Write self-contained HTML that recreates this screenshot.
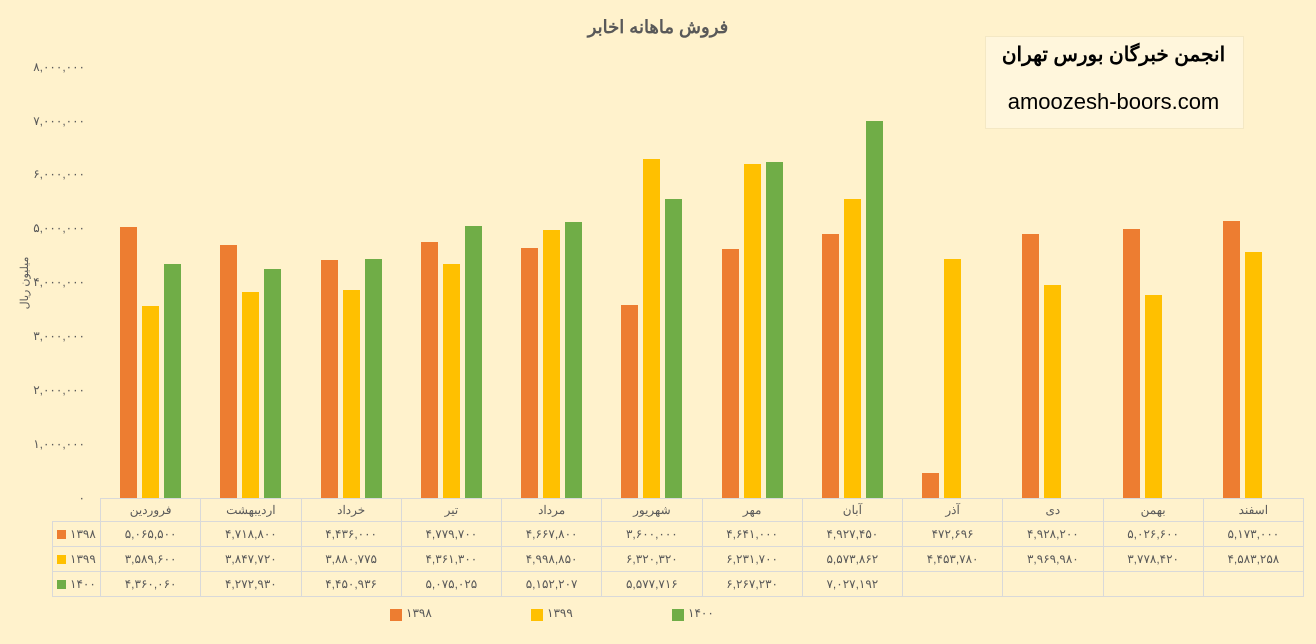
<!DOCTYPE html>
<html><head><meta charset="utf-8"><style>
body{margin:0;width:1316px;height:644px;background:#FFF2CC;position:relative;overflow:hidden;font-family:"Liberation Sans","Noto Sans CJK SC",sans-serif;color:#595959}
.t{position:absolute;}
table{position:absolute;left:52px;top:498px;border-collapse:collapse;font-size:12px;color:#595959;table-layout:fixed;width:1251px}
td{border:1px solid #D9D9D9;text-align:center;padding:0;overflow:hidden;white-space:nowrap}
td.l{text-align:left;padding-left:4px}
.sq{display:inline-block;width:9px;height:9px;margin-right:4px;vertical-align:-1px}
</style></head><body>
<div class="t" style="left:0;width:1316px;top:17px;text-align:center;font-size:18px;font-weight:bold;color:#595959">فروش ماهانه اخابر</div>
<div class="t" style="left:985px;top:36px;width:257px;height:91px;background:#FFF6DC;border:1px solid #F4E8C4"></div>
<div class="t" style="left:985px;top:42px;width:257px;text-align:center;font-size:20px;font-weight:bold;color:#000">انجمن خبرگان بورس تهران</div>
<div class="t" style="left:985px;top:89px;width:257px;text-align:center;font-size:22px;color:#000">amoozesh-boors.com</div>
<svg class="t" style="left:0;top:0" width="1316" height="644">
<g font-size="12" fill="#595959" text-anchor="end" font-family="Liberation Sans,sans-serif">
<text x="85" y="71">۸,۰۰۰,۰۰۰</text><text x="85" y="125">۷,۰۰۰,۰۰۰</text><text x="85" y="178">۶,۰۰۰,۰۰۰</text><text x="85" y="232">۵,۰۰۰,۰۰۰</text><text x="85" y="286">۴,۰۰۰,۰۰۰</text><text x="85" y="340">۳,۰۰۰,۰۰۰</text><text x="85" y="394">۲,۰۰۰,۰۰۰</text><text x="85" y="448">۱,۰۰۰,۰۰۰</text><text x="85" y="502">۰</text>
</g>
<text x="0" y="0" font-size="11" fill="#595959" text-anchor="middle" transform="translate(28,283) rotate(-90)">میلیون ریال</text>
<g fill="#ED7D31">
<rect x="120" y="227" width="17" height="271"/><rect x="220" y="245" width="17" height="253"/><rect x="321" y="260" width="17" height="238"/><rect x="421" y="242" width="17" height="256"/><rect x="521" y="248" width="17" height="250"/><rect x="621" y="305" width="17" height="193"/><rect x="722" y="249" width="17" height="249"/><rect x="822" y="234" width="17" height="264"/><rect x="922" y="473" width="17" height="25"/><rect x="1022" y="234" width="17" height="264"/><rect x="1123" y="229" width="17" height="269"/><rect x="1223" y="221" width="17" height="277"/>
</g>
<g fill="#FFC000">
<rect x="142" y="306" width="17" height="192"/><rect x="242" y="292" width="17" height="206"/><rect x="343" y="290" width="17" height="208"/><rect x="443" y="264" width="17" height="234"/><rect x="543" y="230" width="17" height="268"/><rect x="643" y="159" width="17" height="339"/><rect x="744" y="164" width="17" height="334"/><rect x="844" y="199" width="17" height="299"/><rect x="944" y="259" width="17" height="239"/><rect x="1044" y="285" width="17" height="213"/><rect x="1145" y="295" width="17" height="203"/><rect x="1245" y="252" width="17" height="246"/>
</g>
<g fill="#70AD47">
<rect x="164" y="264" width="17" height="234"/><rect x="264" y="269" width="17" height="229"/><rect x="365" y="259" width="17" height="239"/><rect x="465" y="226" width="17" height="272"/><rect x="565" y="222" width="17" height="276"/><rect x="665" y="199" width="17" height="299"/><rect x="766" y="162" width="17" height="336"/><rect x="866" y="121" width="17" height="377"/>
</g>
<rect x="390" y="609" width="12" height="12" fill="#ED7D31"/><text x="406" y="617" font-size="12" fill="#595959">۱۳۹۸</text>
<rect x="531" y="609" width="12" height="12" fill="#FFC000"/><text x="547" y="617" font-size="12" fill="#595959">۱۳۹۹</text>
<rect x="672" y="609" width="12" height="12" fill="#70AD47"/><text x="688" y="617" font-size="12" fill="#595959">۱۴۰۰</text>
</svg>
<table>
<colgroup><col style="width:48px"><col span="12" style="width:100.25px"></colgroup>
<tr style="height:23px"><td class="l" style="border:none;border-right:1px solid #D9D9D9;border-bottom:1px solid #D9D9D9"></td><td>فروردین</td><td>اردیبهشت</td><td>خرداد</td><td>تیر</td><td>مرداد</td><td>شهریور</td><td>مهر</td><td>آبان</td><td>آذر</td><td>دی</td><td>بهمن</td><td>اسفند</td></tr>
<tr style="height:25px"><td class="l"><span class="sq" style="background:#ED7D31"></span>۱۳۹۸</td><td>۵,۰۶۵,۵۰۰</td><td>۴,۷۱۸,۸۰۰</td><td>۴,۴۳۶,۰۰۰</td><td>۴,۷۷۹,۷۰۰</td><td>۴,۶۶۷,۸۰۰</td><td>۳,۶۰۰,۰۰۰</td><td>۴,۶۴۱,۰۰۰</td><td>۴,۹۲۷,۴۵۰</td><td>۴۷۲,۶۹۶</td><td>۴,۹۲۸,۲۰۰</td><td>۵,۰۲۶,۶۰۰</td><td>۵,۱۷۳,۰۰۰</td></tr>
<tr style="height:25px"><td class="l"><span class="sq" style="background:#FFC000"></span>۱۳۹۹</td><td>۳,۵۸۹,۶۰۰</td><td>۳,۸۴۷,۷۲۰</td><td>۳,۸۸۰,۷۷۵</td><td>۴,۳۶۱,۳۰۰</td><td>۴,۹۹۸,۸۵۰</td><td>۶,۳۲۰,۳۲۰</td><td>۶,۲۳۱,۷۰۰</td><td>۵,۵۷۳,۸۶۲</td><td>۴,۴۵۳,۷۸۰</td><td>۳,۹۶۹,۹۸۰</td><td>۳,۷۷۸,۴۲۰</td><td>۴,۵۸۳,۲۵۸</td></tr>
<tr style="height:25px"><td class="l"><span class="sq" style="background:#70AD47"></span>۱۴۰۰</td><td>۴,۳۶۰,۰۶۰</td><td>۴,۲۷۲,۹۳۰</td><td>۴,۴۵۰,۹۳۶</td><td>۵,۰۷۵,۰۲۵</td><td>۵,۱۵۲,۲۰۷</td><td>۵,۵۷۷,۷۱۶</td><td>۶,۲۶۷,۲۳۰</td><td>۷,۰۲۷,۱۹۲</td><td></td><td></td><td></td><td></td></tr>
</table>
</body></html>
